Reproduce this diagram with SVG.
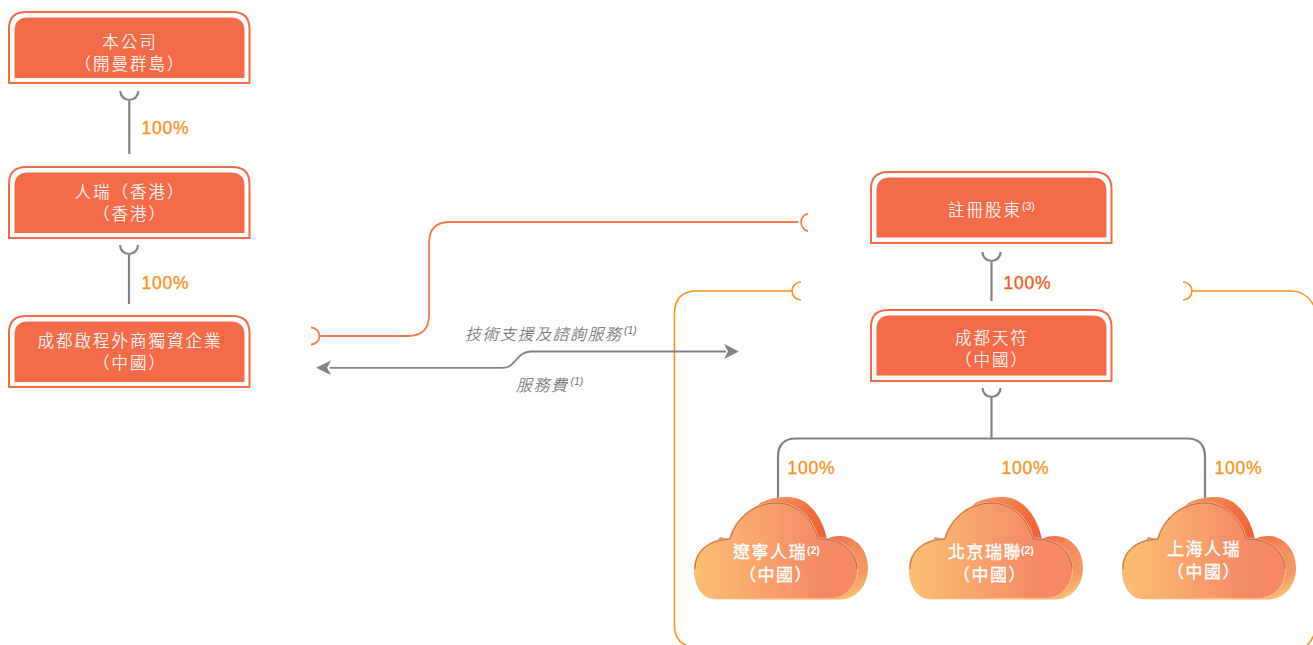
<svg xmlns="http://www.w3.org/2000/svg" width="1313" height="645" viewBox="0 0 1313 645">
<style>
.bx{fill:#fff;stroke:#F26B48;stroke-width:2}
.bi{fill:#F36B49}
.t{font-family:"Noto Sans CJK TC","Liberation Sans",sans-serif;font-size:16.500px;font-weight:300;letter-spacing:2px;fill:#fff;stroke:#fff;stroke-width:.15px;text-anchor:middle}
.s{font-family:"Liberation Sans",sans-serif;font-size:10.500px;letter-spacing:0}
.c{font-family:"Noto Sans CJK TC","Liberation Sans",sans-serif;font-size:17px;letter-spacing:1.500px;fill:#fff;text-anchor:middle;stroke:#fff;stroke-width:.3px}
.p{font-family:"Liberation Sans",sans-serif;font-size:17.500px;letter-spacing:.8px;fill:#F7941D;stroke:#F7941D;stroke-width:.35px}
.i{font-family:"Noto Sans CJK TC","Liberation Sans",sans-serif;font-size:16px;font-weight:300;letter-spacing:1.500px;font-style:italic;fill:#6D6E71;stroke:#6D6E71;stroke-width:.15px}
.g{fill:none;stroke:#808285;stroke-width:2.200}
.o{fill:none;stroke:#F47B4B;stroke-width:1.800}
.y{fill:none;stroke:#F7941D;stroke-width:1.600}
</style>
<defs>
<linearGradient id="front" x1="0" x2="1" y1="0" y2="0"><stop offset="0" stop-color="#FBBF72"/><stop offset="0.75" stop-color="#F58B67"/><stop offset="1" stop-color="#F58867"/></linearGradient>
<linearGradient id="back" x1="0.1" x2="0.95" y1="0" y2="1"><stop offset="0" stop-color="#F9A974"/><stop offset="0.32" stop-color="#F07040"/><stop offset="0.5" stop-color="#EF6438"/><stop offset="0.68" stop-color="#F58A5E"/><stop offset="0.88" stop-color="#F59D68"/><stop offset="1" stop-color="#FAD678"/></linearGradient>
<path id="fp" d="M35 118C22 118 15 104 15 89C15 72 28 60 50 59C56 38 74 23 97 23C118 23 133 40 138 59C162 58 177 72 177 89C177 105 166 118 150 118Z"/>
<path id="tp" d="M15 89C15 72 28 60 50 59C56 38 74 23 97 23C118 23 133 40 138 59C162 58 177 72 177 89"/>
<path id="bp" d="M50 119C30 119 30 70 40 57L50 59L80 23C90 18 100 17 108 17C128 17 142 36 147 59C150 57 155 56 160 56C176 56 188 70 188 88C188 106 176 119.500 160 119.500Z"/>
<g id="cl">
<use href="#bp" fill="url(#back)"/>
<use href="#fp" fill="#FBB77C" stroke="#FBB77C" stroke-width="2.500"/>
<use href="#fp" fill="url(#front)"/>
<use href="#tp" fill="none" stroke="#A8524E" stroke-width="0.800"/>
</g>
</defs>
<rect width="1313" height="645" fill="#fff"/>
<g id="connectors">
<path class="g" d="M120.300 91A9 9 0 0 0 138.300 91M129.300 100V154"/>
<path class="g" d="M120 245A9 9 0 0 0 138 245M129 254V304"/>
<path class="g" d="M982.500 252A9 9 0 0 0 1000.500 252M991.500 261V301"/>
<path class="g" d="M982.500 388A9 9 0 0 0 1000.500 388M991.500 397V438"/>
<path class="g" d="M778 500V457Q778 438.500 796 438.500H1187Q1205 438.500 1205 457V500"/>
<path class="o" d="M311 327.500A8.500 8.500 0 0 1 311 344.500M319.500 336H408Q429 336 429 315V243Q429 222 450 222H798M808 213.500A9 9 0 0 0 808 231"/>
<path class="y" d="M801 282A9 9 0 0 0 801 300M791.500 291H697Q674.500 291 674.500 314V625Q674.500 647 697 647"/>
<path class="y" d="M1183 282A9 9 0 0 1 1183 300M1192.500 291H1291C1302 291 1310 297 1315 308M1316 630Q1312 642 1304 648"/>
<path d="M330 367.800H503C516 367.800 516 351.500 531 351.500H726" fill="none" stroke="#808285" stroke-width="1.800"/>
<path d="M316 367.800L331 360.500L327 367.800L331 375Z" fill="#808285"/>
<path d="M739 351.500L724 344L728 351.500L724 359Z" fill="#808285"/>
</g>
<g id="n1"><path class="bx" d="M9 83V29Q9 12 26 12H232.500Q249.500 12 249.500 29V83Z"/><path class="bi" d="M14.500 78V31Q14.500 17.500 28 17.500H230.500Q244.500 17.500 244.500 31V78Z"/><text class="t" x="130" y="47.500">本公司</text><text class="t" x="130" y="69.500">（開曼群島）</text></g>
<g id="n2"><path class="bx" d="M9 238V184Q9 167 26 167H232.500Q249.500 167 249.500 184V238Z"/><path class="bi" d="M14.500 233V186Q14.500 172.500 28 172.500H230.500Q244.500 172.500 244.500 186V233Z"/><text class="t" x="130" y="197.500">人瑞（香港）</text><text class="t" x="130" y="219.500">（香港）</text></g>
<g id="n3"><path class="bx" d="M9 387V333Q9 316 26 316H232.500Q249.500 316 249.500 333V387Z"/><path class="bi" d="M14.500 382V335Q14.500 321.500 28 321.500H230.500Q244.500 321.500 244.500 335V382Z"/><text class="t" x="130" y="346.500">成都啟程外商獨資企業</text><text class="t" x="130" y="368.500">（中國）</text></g>
<g id="n4"><path class="bx" d="M871 243V189Q871 172 888 172H1094.500Q1111.500 172 1111.500 189V243Z"/><path class="bi" d="M876.500 237.500V191Q876.500 177.500 890 177.500H1092.500Q1106.500 177.500 1106.500 191V237.500Z"/><text class="t" x="985" y="215.500">註冊股東</text><text class="s" x="1022" y="210" fill="#fff">(3)</text></g>
<g id="n5"><path class="bx" d="M871 381V327Q871 310 888 310H1094.500Q1111.500 310 1111.500 327V381Z"/><path class="bi" d="M876.500 375.500V329Q876.500 315.500 890 315.500H1092.500Q1106.500 315.500 1106.500 329V375.500Z"/><text class="t" x="992" y="344">成都天符</text><text class="t" x="992" y="366">（中國）</text></g>
<g id="n6"><use href="#cl" x="680" y="480"/><text class="c" x="770" y="558">遼寧人瑞</text><text class="s" x="807" y="554" fill="#fff" font-weight="bold">(2)</text><text class="c" x="776" y="581">（中國）</text></g>
<g id="n7"><use href="#cl" x="895" y="480"/><text class="c" x="985" y="558">北京瑞聯</text><text class="s" x="1021" y="554" fill="#fff" font-weight="bold">(2)</text><text class="c" x="990" y="581">（中國）</text></g>
<g id="n8"><use href="#cl" x="1108" y="480"/><text class="c" x="1204" y="554.500">上海人瑞</text><text class="c" x="1204" y="577.500">（中國）</text></g>
<g id="labels">
<text class="p" x="141.500" y="134">100%</text>
<text class="p" x="141.500" y="289">100%</text>
<text class="p" x="1003.500" y="289" style="fill:#F15A22;stroke:#F15A22">100%</text>
<text class="p" x="787.500" y="474">100%</text>
<text class="p" x="1001.500" y="474">100%</text>
<text class="p" x="1214.500" y="474">100%</text>
<text class="i" x="465" y="340">技術支援及諮詢服務</text>
<text class="s" x="624" y="334" fill="#6D6E71" font-style="italic">(1)</text>
<text class="i" x="516" y="391">服務費</text>
<text class="s" x="570.500" y="385" fill="#6D6E71" font-style="italic">(1)</text>
</g>
</svg>
